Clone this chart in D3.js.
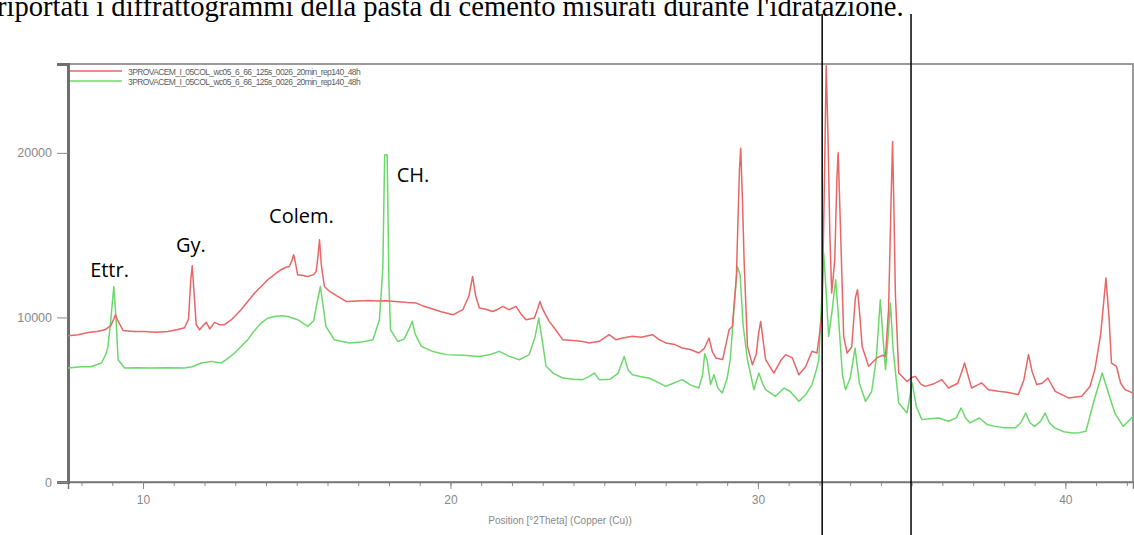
<!DOCTYPE html>
<html>
<head>
<meta charset="utf-8">
<script src="https://cdn.jsdelivr.net/npm/d3@7"></script>
<style>
  body { margin: 0; background: #fff; }
  svg { display: block; }
</style>
</head>
<body>
<svg id="chart" width="1134" height="535"></svg>
<script>
// 2Theta positions and counts of the red scan
const redTheta = [7.56,7.9,8.21,8.5,8.76,8.95,9.05,9.10,9.18,9.35,9.7,10.05,10.4,10.81,11.1,11.35,11.48,11.55,11.60,11.66,11.73,11.84,11.95,12.06,12.17,12.33,12.5,12.65,12.9,13.19,13.4,13.63,13.85,14.06,14.3,14.49,14.65,14.76,14.85,14.90,14.96,15.03,15.2,15.36,15.55,15.63,15.69,15.74,15.80,15.90,16.07,16.33,16.61,17.0,17.37,17.6,17.91,18.3,18.6,18.89,19.1,19.32,19.7,20.08,20.4,20.6,20.72,20.82,20.94,21.15,21.37,21.55,21.70,21.9,22.13,22.3,22.46,22.73,22.85,22.91,23.0,23.21,23.4,23.65,24.0,24.30,24.51,24.84,25.16,25.38,25.6,25.92,26.2,26.57,26.79,27.0,27.3,27.54,27.8,28.08,28.25,28.41,28.52,28.63,28.85,29.0,29.06,29.17,29.30,29.40,29.44,29.50,29.55,29.66,29.82,29.95,30.02,30.09,30.17,30.25,30.52,30.75,30.90,31.12,31.33,31.55,31.76,31.92,32.02,32.09,32.17,32.22,32.28,32.34,32.40,32.50,32.57,32.61,32.66,32.79,32.90,33.05,33.17,33.24,33.32,33.39,33.60,33.87,34.05,34.15,34.25,34.33,34.38,34.43,34.47,34.58,34.85,35.0,35.12,35.3,35.44,35.7,35.98,36.2,36.5,36.65,36.72,36.8,36.95,37.15,37.28,37.5,37.82,38.1,38.47,38.65,38.80,38.92,39.07,39.25,39.43,39.67,40.10,40.53,40.8,40.96,41.15,41.32,41.42,41.50,41.66,41.80,41.94,42.2];
const redCounts = [8890,8950,9090,9150,9250,9500,9900,10160,9800,9210,9150,9150,9100,9150,9250,9370,9900,12200,13140,11500,9560,9250,9500,9700,9300,9700,9550,9560,9900,10470,10950,11480,11900,12290,12650,12900,13050,13100,13500,13810,13300,12590,12550,12490,12600,12790,13700,14720,13200,11880,11580,11280,10970,11000,11030,11000,11010,10950,10900,10870,10700,10570,10350,10160,10470,11300,12490,11300,10570,10500,10360,10500,10670,10470,10670,10200,9860,9960,10600,10970,10500,9760,9300,8650,8600,8540,8450,8550,8950,8650,8750,8850,8800,8950,8650,8450,8350,8140,8050,7840,8100,8750,7900,7540,7440,8700,9250,9450,12500,19000,20280,17000,13500,8240,7130,7800,9000,9760,8600,7430,6620,7400,7740,7540,6520,7000,7940,7840,9200,10470,19000,25300,21000,15000,11480,13500,18500,20000,17000,8850,7840,8200,11200,11680,10000,8240,7030,7540,7700,7630,10500,17000,20690,16000,11480,6620,6110,6350,6420,5950,5810,5950,6220,5710,6000,6800,7230,6700,5710,5900,6020,5610,5510,5450,5310,6200,7740,6700,5920,6000,6320,5510,5110,5210,5800,6830,9000,12390,10000,7230,7030,6000,5610,5410];

// 2Theta positions and counts of the green scan
const greenTheta = [7.56,8.0,8.3,8.65,8.80,8.86,8.95,9.05,9.12,9.19,9.4,9.8,10.27,10.8,11.35,11.6,11.89,12.22,12.54,12.75,12.98,13.2,13.41,13.6,13.84,14.05,14.28,14.5,14.71,15.03,15.2,15.36,15.55,15.65,15.77,15.85,15.95,16.22,16.45,16.72,17.1,17.48,17.69,17.80,17.86,17.94,18.0,18.05,18.29,18.5,18.65,18.76,18.85,19.05,19.4,19.86,20.4,20.94,21.3,21.59,21.9,22.24,22.56,22.75,22.87,22.97,23.11,23.35,23.65,24.0,24.30,24.50,24.68,24.84,25.2,25.45,25.65,25.78,25.92,26.2,26.46,26.75,27.0,27.25,27.54,27.8,28.08,28.20,28.27,28.35,28.46,28.57,28.70,28.84,29.0,29.1,29.22,29.33,29.42,29.52,29.66,29.87,30.03,30.15,30.25,30.57,30.85,31.05,31.33,31.55,31.76,31.90,31.98,32.06,32.14,32.22,32.30,32.42,32.53,32.62,32.75,32.85,33.0,33.16,33.30,33.50,33.70,33.85,33.98,34.08,34.15,34.22,34.31,34.40,34.58,34.85,35.02,35.15,35.33,35.6,35.88,36.2,36.45,36.61,36.75,36.9,37.2,37.45,37.72,38.0,38.37,38.55,38.71,38.85,39.0,39.2,39.34,39.48,39.65,39.95,40.24,40.45,40.67,40.94,41.10,41.20,41.30,41.40,41.61,41.88,42.0,42.2];
const greenCounts = [6930,7000,7000,7230,7800,8240,9800,11880,10000,7430,6930,6950,6930,6950,6930,7000,7230,7330,7230,7500,7840,8250,8650,9150,9660,9950,10060,10100,10060,9860,9650,9450,9800,10800,11880,10800,9450,8650,8550,8450,8500,8650,9860,13000,19880,19880,12000,9250,8540,8700,9300,9760,9000,8240,7950,7740,7700,7630,7750,7940,7650,7430,7740,8800,9960,8800,7030,6600,6320,6250,6220,6400,6620,6220,6250,6600,7630,6800,6520,6400,6320,6050,5810,6000,6220,5900,5710,6500,7800,7400,5920,6520,5700,5410,6300,7430,10500,13100,12600,9500,7430,5610,6620,6000,5610,5210,5710,5500,4900,5300,5920,6800,7430,10500,13900,11500,8850,10500,12290,10000,6500,5610,6300,8140,6000,4900,5500,7500,11070,8500,6830,8500,10870,8000,4800,4190,6020,4600,3790,3850,3890,3690,3900,4500,3900,3590,3890,3500,3380,3300,3290,3600,4190,3600,3380,3700,4190,3600,3290,3050,2980,3000,3080,5000,6000,6620,6000,5410,4190,3380,3600,3990];

const legendLabels = [
  "3PROVACEM_I_05COL_wc05_6_66_125s_0026_20min_rep140_48h",
  "3PROVACEM_I_05COL_wc05_6_66_125s_0026_20min_rep140_48h"
];
const yTickValues = [0, 10000, 20000];
const xTickValues = [10, 20, 30, 40];
const xTitle = "Position [°2Theta] (Copper (Cu))";
const caption = "riportati i diffrattogrammi della pasta di cemento misurati durante l'idratazione.";

// Phase labels written above their reflections (anchor in 2Theta / counts)
const phaseNames = ["Ettr.", "Gy.", "Colem.", "CH."];
const phaseTheta = [8.28, 11.07, 14.1, 18.25];
const phaseCounts = [12460, 14000, 15750, 18220];

// Marker lines drawn over the pattern (2Theta)
const markerTheta = [32.09, 34.98];

const svg = d3.select("#chart");
const plotLeft = 68, plotRight = 1133, plotTop = 64, plotBottom = 482;

const x = d3.scaleLinear().domain([7.56, 42.2]).range([plotLeft, plotRight]);
const y = d3.scaleLinear().domain([0, 25400]).range([plotBottom, plotTop]);

// caption line of the surrounding text
svg.append("text")
  .attr("x", -3).attr("y", 16)
  .attr("font-family", "'Liberation Serif', 'Times New Roman', serif")
  .attr("font-size", 28.6)
  .attr("fill", "#000")
  .text(caption);

// plot frame
svg.append("rect")
  .attr("x", plotLeft).attr("y", plotTop)
  .attr("width", plotRight - plotLeft).attr("height", plotBottom - plotTop)
  .attr("fill", "#fff").attr("stroke", "#8f8f8f").attr("stroke-width", 1.8);

svg.append("defs").append("clipPath").attr("id", "plotClip")
  .append("rect").attr("x", plotLeft).attr("y", plotTop - 1)
  .attr("width", plotRight - plotLeft).attr("height", plotBottom - plotTop + 1);

// x axis with minor ticks every degree
const xMinor = svg.append("g").attr("transform", `translate(0,${plotBottom})`)
  .call(d3.axisBottom(x).tickValues(d3.range(8, 43, 1)).tickSize(4).tickFormat(""));
xMinor.select(".domain").remove();
xMinor.selectAll("line").attr("stroke", "#8a8a8a");
const xMajor = svg.append("g").attr("transform", `translate(0,${plotBottom})`)
  .call(d3.axisBottom(x).tickValues(xTickValues).tickSize(7).tickPadding(6).tickFormat(d3.format("d")));
xMajor.select(".domain").attr("stroke", "#777").attr("stroke-width", 1.5);
xMajor.selectAll("line").attr("stroke", "#8a8a8a");
xMajor.selectAll("text").attr("fill", "#888")
  .attr("font-family", "'Liberation Sans', Arial, sans-serif").attr("font-size", 12);

// y axis
const yAxis = svg.append("g").attr("transform", `translate(${plotLeft},0)`)
  .call(d3.axisLeft(y).tickValues(yTickValues).tickSize(11).tickPadding(5).tickFormat(d3.format("d")));
yAxis.select(".domain").attr("stroke", "#6e6e6e").attr("stroke-width", 3);
yAxis.selectAll("line").attr("stroke", "#8a8a8a");
yAxis.selectAll("text").attr("fill", "#888")
  .attr("font-family", "'Liberation Sans', Arial, sans-serif").attr("font-size", 12.5);

svg.append("text")
  .attr("x", 560).attr("y", 524).attr("text-anchor", "middle")
  .attr("fill", "#888")
  .attr("font-family", "'Liberation Sans', Arial, sans-serif").attr("font-size", 10)
  .text(xTitle);

// diffraction patterns
const series = [
  { theta: greenTheta, counts: greenCounts, color: "#6cd86c" },
  { theta: redTheta, counts: redCounts, color: "#e86666" }
];
const line = d3.line().x(d => x(d[0])).y(d => y(d[1]));
const plot = svg.append("g").attr("clip-path", "url(#plotClip)");
series.forEach(s => {
  plot.append("path")
    .datum(s.theta.map((t, i) => [t, s.counts[i]]))
    .attr("d", line)
    .attr("fill", "none")
    .attr("stroke", s.color)
    .attr("stroke-width", 1.5)
    .attr("stroke-linejoin", "round");
});

// legend
const legendColors = ["#e86666", "#6cd86c"];
legendLabels.forEach((lab, i) => {
  const ly = 71 + i * 10;
  svg.append("line").attr("x1", 70).attr("x2", 122).attr("y1", ly).attr("y2", ly)
    .attr("stroke", legendColors[i]).attr("stroke-width", 1.4);
  svg.append("text").attr("x", 128).attr("y", ly + 3.5)
    .attr("font-family", "'Liberation Sans', Arial, sans-serif")
    .attr("font-size", 8.5).attr("letter-spacing", -0.6)
    .attr("fill", "#5e5e5e").text(lab);
});

// phase labels
phaseNames.forEach((name, i) => {
  svg.append("text")
    .attr("x", x(phaseTheta[i])).attr("y", y(phaseCounts[i]))
    .attr("font-family", "'Open Sans', 'Noto Sans', sans-serif").attr("font-size", 20)
    .attr("fill", "#000").text(name);
});

// marker lines
markerTheta.forEach(t => {
  svg.append("line")
    .attr("x1", x(t)).attr("x2", x(t)).attr("y1", 14).attr("y2", 535)
    .attr("stroke", "#000").attr("stroke-width", 1.5);
});
</script>
</body>
</html>
